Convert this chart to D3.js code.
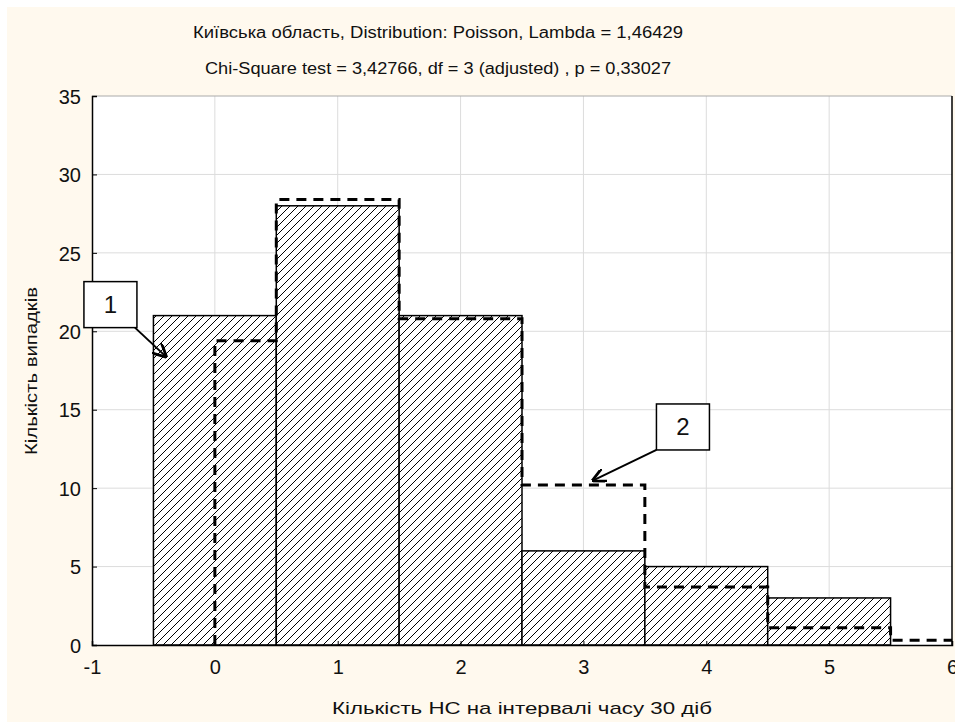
<!DOCTYPE html>
<html>
<head>
<meta charset="utf-8">
<script src="https://cdn.jsdelivr.net/npm/d3@7"></script>
<style>
  html, body { margin: 0; padding: 0; background: #ffffff; }
  svg { display: block; }
  text { font-family: "Liberation Sans", Arial, sans-serif; fill: #111; }
</style>
</head>
<body>
<svg id="chart" width="955" height="722"></svg>
<script>
// ---- data ----
const titleLines = [
  "Київська область, Distribution: Poisson, Lambda = 1,46429",
  "Chi-Square test = 3,42766, df = 3 (adjusted) , p = 0,33027"
];
const xLabel = "Кількість НС на інтервалі часу 30 діб";
const yLabel = "Кількість випадків";
const categories = [0, 1, 2, 3, 4, 5];
const observed = [21, 28, 21, 6, 5, 3];
const expectedX = [0, 1, 2, 3, 4, 5, 6];
const expected = [19.4, 28.4, 20.8, 10.2, 3.7, 1.1, 0.3];
const xTicks = [-1, 0, 1, 2, 3, 4, 5, 6];
const yTicks = [0, 5, 10, 15, 20, 25, 30, 35];
const annotations = [
  { label: "1", cx: -0.85, cy: 21.7, fromCorner: "br", tx: -0.40, ty: 18.4 },
  { label: "2", cx: 3.81, cy: 13.9, fromCorner: "bl", tx: 3.08, ty: 10.5 }
];

// ---- layout ----
const svg = d3.select("#chart");
const W = 955, H = 722;
const plot = { left: 92, right: 952, top: 96, bottom: 645 };

const x = d3.scaleLinear().domain([-1, 6]).range([plot.left, plot.right]);
const y = d3.scaleLinear().domain([0, 35]).range([plot.bottom, plot.top]);

// background panel
svg.append("rect").attr("x", 7).attr("y", 7).attr("width", W - 7).attr("height", H - 7)
  .attr("fill", "#fff9ee");
svg.append("rect").attr("x", plot.left).attr("y", plot.top)
  .attr("width", plot.right - plot.left).attr("height", plot.bottom - plot.top)
  .attr("fill", "#ffffff");

// defs: hatch + arrow
const defs = svg.append("defs");
const pat = defs.append("pattern").attr("id", "hatch")
  .attr("patternUnits", "userSpaceOnUse").attr("width", 8).attr("height", 8);
pat.append("rect").attr("width", 8).attr("height", 8).attr("fill", "#ffffff");
pat.append("path").attr("d", "M-2,2 L2,-2 M0,8 L8,0 M6,10 L10,6")
  .attr("stroke", "#000").attr("stroke-width", 1);
defs.append("marker").attr("id", "arrow").attr("viewBox", "0 0 10 10")
  .attr("refX", 9).attr("refY", 5).attr("markerWidth", 7).attr("markerHeight", 7)
  .attr("orient", "auto-start-reverse")
  .append("path").attr("d", "M0,0 L10,5 L0,10").attr("fill", "none")
  .attr("stroke", "#000").attr("stroke-width", 2);

// gridlines
const grid = svg.append("g");
grid.selectAll("line.gy").data(yTicks.filter(v => v > 0 && v < 35)).join("line")
  .attr("x1", plot.left).attr("x2", plot.right)
  .attr("y1", d => y(d)).attr("y2", d => y(d))
  .attr("stroke", "#dcdcdc").attr("stroke-width", 1);
grid.selectAll("line.gx").data(xTicks.filter(v => v > -1 && v < 6)).join("line")
  .attr("y1", plot.top).attr("y2", plot.bottom)
  .attr("x1", d => x(d)).attr("x2", d => x(d))
  .attr("stroke", "#dcdcdc").attr("stroke-width", 1);

// bars
svg.append("g").selectAll("rect").data(categories).join("rect")
  .attr("x", (d) => x(d - 0.5))
  .attr("width", (d) => x(d + 0.5) - x(d - 0.5))
  .attr("y", (d, i) => y(observed[i]))
  .attr("height", (d, i) => y(0) - y(observed[i]))
  .attr("fill", "url(#hatch)")
  .attr("stroke", "#000").attr("stroke-width", 1.5);

// expected step line
const pts = [[expectedX[0], 0]];
expectedX.forEach((k, i) => {
  const x0 = i === 0 ? k : k - 0.5;
  const x1 = i === expectedX.length - 1 ? k : k + 0.5;
  pts.push([x0, expected[i]]);
  pts.push([x1, expected[i]]);
});
svg.append("path")
  .attr("d", d3.line().x(d => x(d[0])).y(d => y(d[1]))(pts))
  .attr("fill", "none").attr("stroke", "#000").attr("stroke-width", 3)
  .attr("stroke-dasharray", "10,7");

// frame
svg.append("line").attr("x1", plot.left).attr("x2", plot.right)
  .attr("y1", plot.top).attr("y2", plot.top).attr("stroke", "#aaa").attr("stroke-width", 1);
svg.append("line").attr("x1", plot.right).attr("x2", plot.right)
  .attr("y1", plot.top).attr("y2", plot.bottom).attr("stroke", "#000").attr("stroke-width", 1.5);

// axes
const fmt = d => String(d);
const yAxis = svg.append("g").attr("transform", `translate(${plot.left},0)`)
  .call(d3.axisLeft(y).tickValues(yTicks).tickSize(-5).tickPadding(11).tickFormat(fmt));
const xAxis = svg.append("g").attr("transform", `translate(0,${plot.bottom})`)
  .call(d3.axisBottom(x).tickValues(xTicks).tickSize(-4).tickPadding(15).tickFormat(fmt));
[yAxis, xAxis].forEach(a => {
  a.attr("font-size", 20);
  a.select(".domain").attr("stroke", "#000").attr("stroke-width", 1.5);
  a.selectAll(".tick line").attr("stroke", "#000");
  a.selectAll(".tick text").attr("font-size", 20)
    .attr("font-family", "'Liberation Sans', Arial, sans-serif").attr("fill", "#111");
});
yAxis.selectAll(".tick text").attr("dy", "0.36em");

// titles
const titleWidths = [490, 466];
svg.selectAll("text.title").data(titleLines).join("text")
  .attr("class", "title")
  .attr("x", 438).attr("y", (d, i) => 38 + i * 36)
  .attr("text-anchor", "middle").attr("font-size", 16)
  .attr("textLength", (d, i) => titleWidths[i]).attr("lengthAdjust", "spacingAndGlyphs")
  .text(d => d);

// axis labels
svg.append("text").attr("x", 522).attr("y", 714).attr("text-anchor", "middle")
  .attr("font-size", 17).attr("textLength", 380).attr("lengthAdjust", "spacingAndGlyphs")
  .text(xLabel);
svg.append("text").attr("transform", "translate(37,371) rotate(-90)")
  .attr("text-anchor", "middle").attr("font-size", 17)
  .attr("textLength", 168).attr("lengthAdjust", "spacingAndGlyphs").text(yLabel);

// annotations
const bw = 53, bh = 46;
const ann = svg.append("g");
annotations.forEach(a => {
  const cx = x(a.cx), cy = y(a.cy);
  const sx = a.fromCorner === "br" ? cx + bw / 2 - 2 : cx - bw / 2;
  const sy = cy + bh / 2;
  ann.append("line").attr("x1", sx).attr("y1", sy).attr("x2", x(a.tx)).attr("y2", y(a.ty))
    .attr("stroke", "#000").attr("stroke-width", 2).attr("marker-end", "url(#arrow)");
  ann.append("rect").attr("x", cx - bw / 2).attr("y", cy - bh / 2)
    .attr("width", bw).attr("height", bh)
    .attr("fill", "#ffffff").attr("stroke", "#000").attr("stroke-width", 1.5);
  ann.append("text").attr("x", cx).attr("y", cy + 8).attr("text-anchor", "middle")
    .attr("font-family", "'Liberation Serif', 'Times New Roman', serif")
    .attr("font-size", 24).text(a.label);
});
</script>
</body>
</html>
